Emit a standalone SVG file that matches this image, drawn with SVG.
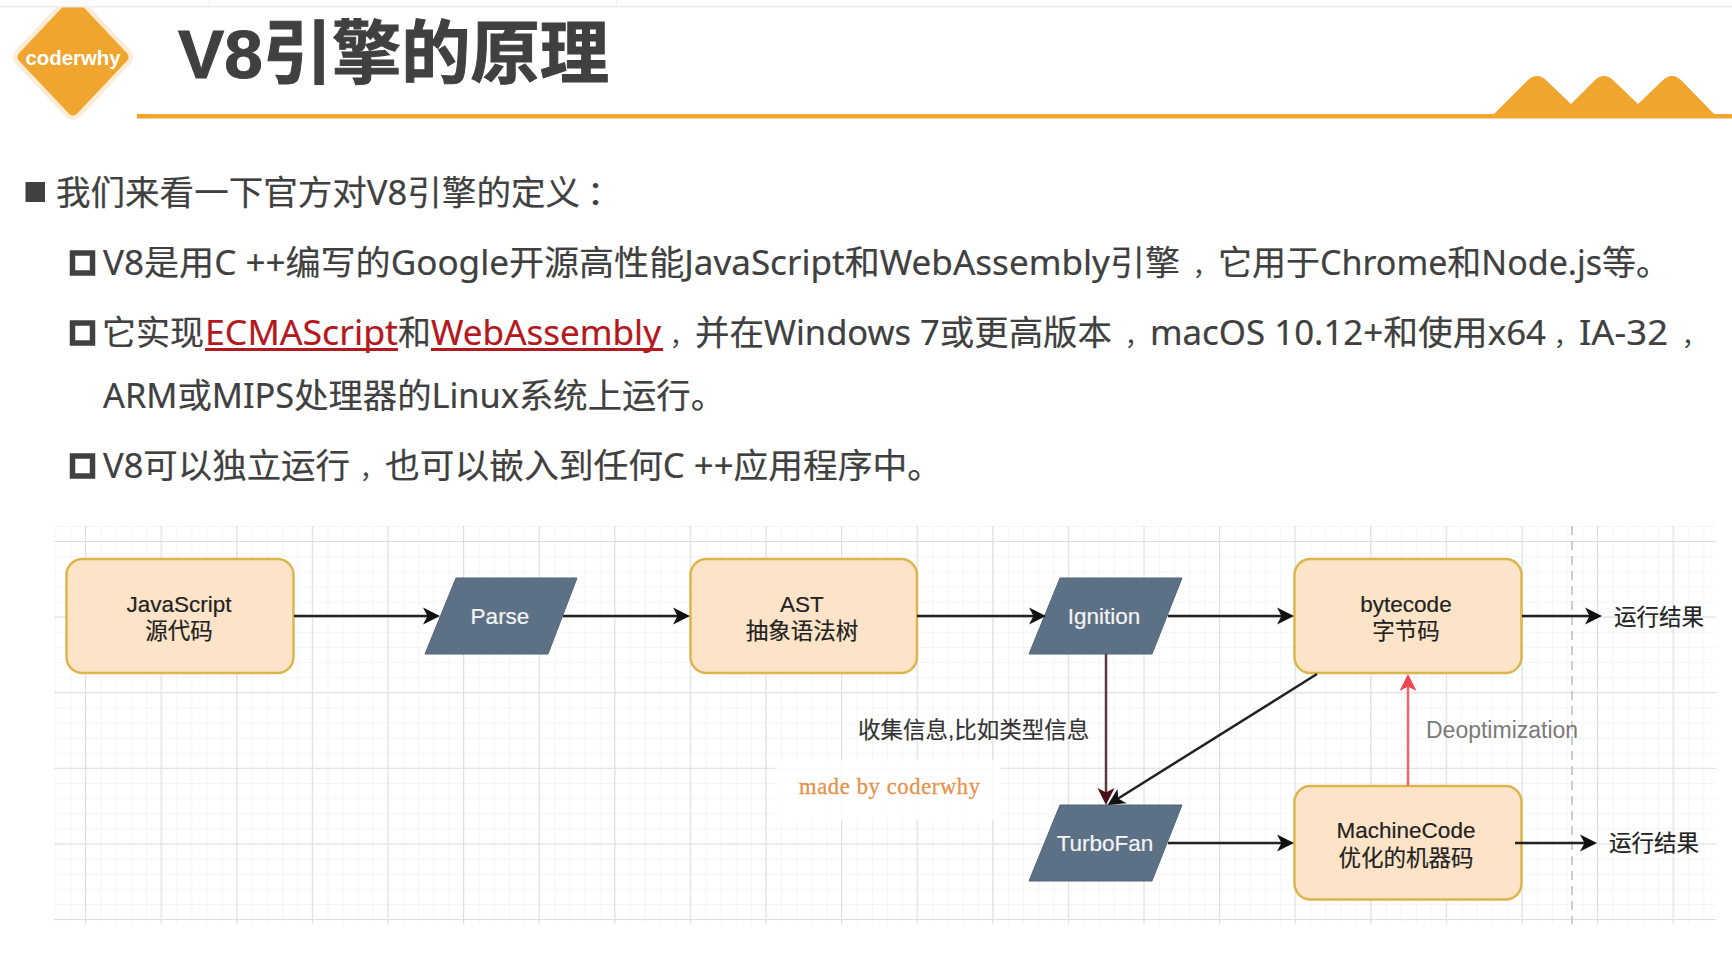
<svg xmlns="http://www.w3.org/2000/svg" width="1732" height="977" viewBox="0 0 1732 977">
<style>
text{font-family:"Liberation Sans","Noto Sans CJK SC",sans-serif}
.body{font-family:"Noto Sans","Noto Sans CJK SC",sans-serif;font-size:34px;fill:#404040;stroke:#404040;stroke-width:.2}
.cm{font-size:24px}
.link{fill:#b5181c;stroke:#b5181c}
.ul{stroke:#b01c1e;stroke-width:3}
.hb{fill:none;stroke:#404040;stroke-width:5.5}
.box{fill:#fde4c8;stroke:#dcb54e;stroke-width:2.5}
.para{fill:#5d7186;stroke:#52657a;stroke-width:1}
.lb{font-size:22.5px;fill:#222;text-anchor:middle;stroke:#222;stroke-width:.2}
.wl{font-size:22.5px;fill:#f4f4f4;text-anchor:middle;stroke:#f4f4f4;stroke-width:.2}
.minor{stroke:#f5f5f5;stroke-width:1}
.major{stroke:#dfdfdf;stroke-width:1.2}
.c{fill:none;stroke:#222;stroke-width:2.5}
</style>
<defs>
<marker id="ak" markerUnits="userSpaceOnUse" markerWidth="20" markerHeight="20" viewBox="-1 -10 20 20" refX="13" refY="0" orient="auto"><path d="M0-8.500 17 0 0 8.500 4.500 0z" fill="#111"/></marker>
<marker id="ad" markerUnits="userSpaceOnUse" markerWidth="20" markerHeight="20" viewBox="-1 -10 20 20" refX="13" refY="0" orient="auto"><path d="M0-8.500 17 0 0 8.500 4.500 0z" fill="#4a0f12"/></marker>
<marker id="ar" markerUnits="userSpaceOnUse" markerWidth="20" markerHeight="20" viewBox="-1 -10 20 20" refX="13" refY="0" orient="auto"><path d="M0-8.500 17 0 0 8.500 4.500 0z" fill="#f0454f"/></marker>
<pattern id="gm" patternUnits="userSpaceOnUse" x="10" y="526" width="15.12" height="15.12"><path d="M.5 0V15.12M0 .5H15.12" class="minor" fill="none"/></pattern>
<pattern id="gM" patternUnits="userSpaceOnUse" x="85" y="541" width="75.6" height="75.6"><path d="M.5 0V75.6M0 .5H75.6" class="major" fill="none"/></pattern>
</defs>
<rect width="1732" height="977" fill="#fff"/>

<g id="header">
<g id="logo">
<path d="M73 4 123 57 73 110 23 57z" fill="#fcebd6" stroke="#fcebd6" stroke-width="20" stroke-linejoin="round"/>
<path d="M73 4 123 57 73 110 23 57z" fill="#f0a52f" stroke="#f0a52f" stroke-width="11" stroke-linejoin="round"/>
<text x="73" y="65" text-anchor="middle" font-size="20.4" font-weight="700" fill="#fff">coderwhy</text>
</g>
<rect x="0" y="0" width="1732" height="7" fill="#fdfdfd"/>
<rect x="0" y="6" width="1732" height="1.5" fill="#ebebeb"/>
<path d="M209.500 0V6M616.500 0V6" stroke="#eee"/>
<text x="178" y="78" font-size="69" font-weight="700" fill="#404040" stroke="#404040" stroke-width="1" textLength="431" lengthAdjust="spacingAndGlyphs">V8引擎的原理</text>
<rect x="137" y="114" width="1595" height="4.500" fill="#f0a52f"/>
<path d="M1494 114 1527 81Q1537 71 1547 81L1571 104 1594 81Q1604 71 1614 81L1638 104 1662 81Q1672 71 1682 81L1714 114V118H1494z" fill="#f0a52f"/>
</g>

<g id="text-block">
<rect x="25.500" y="182" width="19.500" height="20" fill="#404040"/>
<text class="body" x="56" y="205" textLength="524" lengthAdjust="spacingAndGlyphs">我们来看一下官方对V8引擎的定义</text>
<text class="body" x="587" y="205">：</text>
<rect class="hb" x="72.500" y="253" width="20" height="20"/>
<text class="body" x="103" y="275" textLength="1077" lengthAdjust="spacingAndGlyphs">V8是用C ++编写的Google开源高性能JavaScript和WebAssembly引擎</text>
<text class="body cm" x="1193" y="275">，</text>
<text class="body" x="1218" y="275" textLength="452" lengthAdjust="spacingAndGlyphs">它用于Chrome和Node.js等。</text>
<rect class="hb" x="72.500" y="323" width="20" height="20"/>
<text class="body" x="102" y="345" textLength="102" lengthAdjust="spacingAndGlyphs">它实现</text>
<text class="body link" x="205" y="345" textLength="193" lengthAdjust="spacingAndGlyphs">ECMAScript</text>
<text class="body" x="398" y="345" textLength="33" lengthAdjust="spacingAndGlyphs">和</text>
<text class="body link" x="431" y="345" textLength="230" lengthAdjust="spacingAndGlyphs">WebAssembly</text>
<path class="ul" d="M205 349.500H398M431 349.500H663"/>
<text class="body cm" x="670" y="345">，</text>
<text class="body" x="695" y="345" textLength="417" lengthAdjust="spacingAndGlyphs">并在Windows 7或更高版本</text>
<text class="body cm" x="1125" y="345">，</text>
<text class="body" x="1150" y="345" textLength="396" lengthAdjust="spacingAndGlyphs">macOS 10.12+和使用x64</text>
<text class="body cm" x="1554" y="345">，</text>
<text class="body" x="1579" y="345" textLength="89" lengthAdjust="spacingAndGlyphs">IA-32</text>
<text class="body cm" x="1682" y="345">，</text>
<text class="body" x="103" y="408" textLength="622" lengthAdjust="spacingAndGlyphs">ARM或MIPS处理器的Linux系统上运行。</text>
<rect class="hb" x="72.500" y="456" width="20" height="20"/>
<text class="body" x="103" y="478" textLength="247" lengthAdjust="spacingAndGlyphs">V8可以独立运行</text>
<text class="body cm" x="360" y="478">，</text>
<text class="body" x="385" y="478" textLength="557" lengthAdjust="spacingAndGlyphs">也可以嵌入到任何C ++应用程序中。</text>
</g>

<g id="grid">
<rect x="54" y="526" width="1662" height="398" fill="url(#gm)"/>
<rect x="54" y="526" width="1662" height="398" fill="url(#gM)"/>
<path d="M1572 526V924" stroke="#bdbdbd" stroke-width="1.500" stroke-dasharray="9 6"/>
<rect id="watermark-patch" x="775" y="760" width="225" height="60" fill="#fff" opacity=".8"/>
</g>

<g id="node-javascript"><rect class="box" x="66.500" y="559" width="227" height="114" rx="16"/><text class="lb" x="179" y="611.500">JavaScript</text><text class="lb" x="179" y="639">源代码</text></g>
<g id="node-parse"><path class="para" d="M456 578H577L548 654H425z"/><text class="wl" x="500" y="624">Parse</text></g>
<g id="node-ast"><rect class="box" x="690.500" y="559" width="226.500" height="114" rx="16"/><text class="lb" x="802" y="611.500">AST</text><text class="lb" x="802" y="639">抽象语法树</text></g>
<g id="node-ignition"><path class="para" d="M1060 578H1182L1152 654H1029z"/><text class="wl" x="1104" y="624">Ignition</text></g>
<g id="node-bytecode"><rect class="box" x="1294.500" y="559" width="227" height="114" rx="16"/><text class="lb" x="1406" y="611.500">bytecode</text><text class="lb" x="1406" y="639">字节码</text></g>
<g id="node-turbofan"><path class="para" d="M1060 805H1182L1152 881H1029z"/><text class="wl" x="1105" y="851">TurboFan</text></g>
<g id="node-machinecode"><rect class="box" x="1294.500" y="786" width="227" height="113.500" rx="16"/><text class="lb" x="1406" y="838">MachineCode</text><text class="lb" x="1406" y="866">优化的机器码</text></g>

<g id="connectors">
<path class="c" marker-end="url(#ak)" d="M294 616H436"/>
<path class="c" marker-end="url(#ak)" d="M563 616H686"/>
<path class="c" marker-end="url(#ak)" d="M917 616H1042"/>
<path class="c" marker-end="url(#ak)" d="M1168 616H1290"/>
<path class="c" marker-end="url(#ak)" d="M1522 616H1598"/>
<path class="c" marker-end="url(#ak)" d="M1168 843H1290"/>
<path class="c" marker-end="url(#ak)" d="M1515 843H1593"/>
<path class="c" marker-end="url(#ak)" d="M1317 674 1111 803"/>
<path class="c" style="stroke:#5a3a40" marker-end="url(#ad)" d="M1106 654V801"/>
<path class="c" style="stroke:#f0646c" marker-end="url(#ar)" d="M1408 786V678"/>
</g>

<g id="labels">
<text x="1614" y="625" font-size="22.500" fill="#222" stroke="#222" stroke-width=".2">运行结果</text>
<text x="1609" y="851" font-size="22.500" fill="#222" stroke="#222" stroke-width=".2">运行结果</text>
<text x="1426" y="738" font-size="23" fill="#7a7a7a">Deoptimization</text>
<text x="858" y="738" font-size="22.500" fill="#333" stroke="#333" stroke-width=".2">收集信息,比如类型信息</text>
<text x="799" y="794" font-size="22.500" fill="#e8914a" stroke="#e8914a" stroke-width=".3" style="font-family:'Liberation Serif',serif" textLength="181">made by coderwhy</text>
</g>
</svg>
